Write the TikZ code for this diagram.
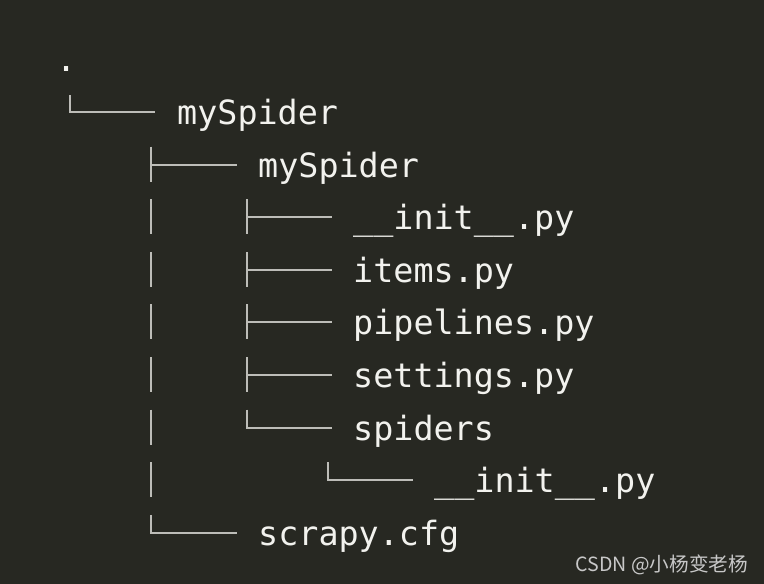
\documentclass[tikz,border=0pt]{standalone}
\usepackage{fontspec}
\newfontfamily\monof{DejaVu Sans Mono}
\newfontfamily\cjkf{Noto Sans CJK SC}
\definecolor{bgc}{HTML}{272822}
\definecolor{txc}{HTML}{F2F2EE}
\definecolor{lnc}{HTML}{BDBDB8}
\definecolor{wmc}{HTML}{C8C8C8}
\tikzset{
  entry/.style={anchor=base west, inner sep=0pt, text=txc, font=\monof\fontsize{33.4}{40}\selectfont},
  treeline/.style={draw=lnc, line width=2pt},
}
\begin{document}
\begin{tikzpicture}[x=1pt,y=-1pt]
\fill[bgc] (0,0) rectangle (764,584);
\useasboundingbox (0,0) rectangle (764,584);
% dot
\node[entry] (root) at (56,71.5) {.};
% texts
\node[entry] (n1) at (177,124.5) {mySpider};
\node[entry] (n2) at (258,177.1) {mySpider};
\node[entry] (n3) at (353,229.7) {\_\_init\_\_.py};
\node[entry] (n4) at (353,282.3) {items.py};
\node[entry] (n5) at (353,334.9) {pipelines.py};
\node[entry] (n6) at (353,387.5) {settings.py};
\node[entry] (n7) at (353,440.1) {spiders};
\node[entry] (n8) at (434,492.7) {\_\_init\_\_.py};
\node[entry] (n9) at (258,545.3) {scrapy.cfg};
% tree lines
% row 1: corner
\draw[treeline] (70,95) -- (70,112) -- (155,112);
% row 2: tee
\draw[treeline] (151,146.6) -- (151,181.6);
\draw[treeline] (151,164.6) -- (237,164.6);
% rows 3-8: vertical bars in column 151
\foreach \k in {3,...,8} {
  \pgfmathsetmacro{\yy}{112+52.6*(\k-1)}
  \draw[treeline] (151,\yy-18) -- (151,\yy+17);
}
% rows 3-6: tees at 247
\foreach \k in {3,...,6} {
  \pgfmathsetmacro{\yy}{112+52.6*(\k-1)}
  \draw[treeline] (247,\yy-18) -- (247,\yy+17);
  \draw[treeline] (247,\yy) -- (332,\yy);
}
% row 7: corner at 247
\draw[treeline] (247,409.6) -- (247,427.6) -- (332,427.6);
% row 8: corner at 328
\draw[treeline] (328,462.2) -- (328,480.2) -- (413,480.2);
% row 9: corner at 151
\draw[treeline] (151,514.8) -- (151,532.8) -- (237,532.8);
% watermark
\node[anchor=base east, inner sep=0pt, text=wmc, font=\cjkf\fontsize{19.6}{24}\selectfont] (wm) at (748,571) {CSDN @小杨变老杨};
\end{tikzpicture}
\end{document}
